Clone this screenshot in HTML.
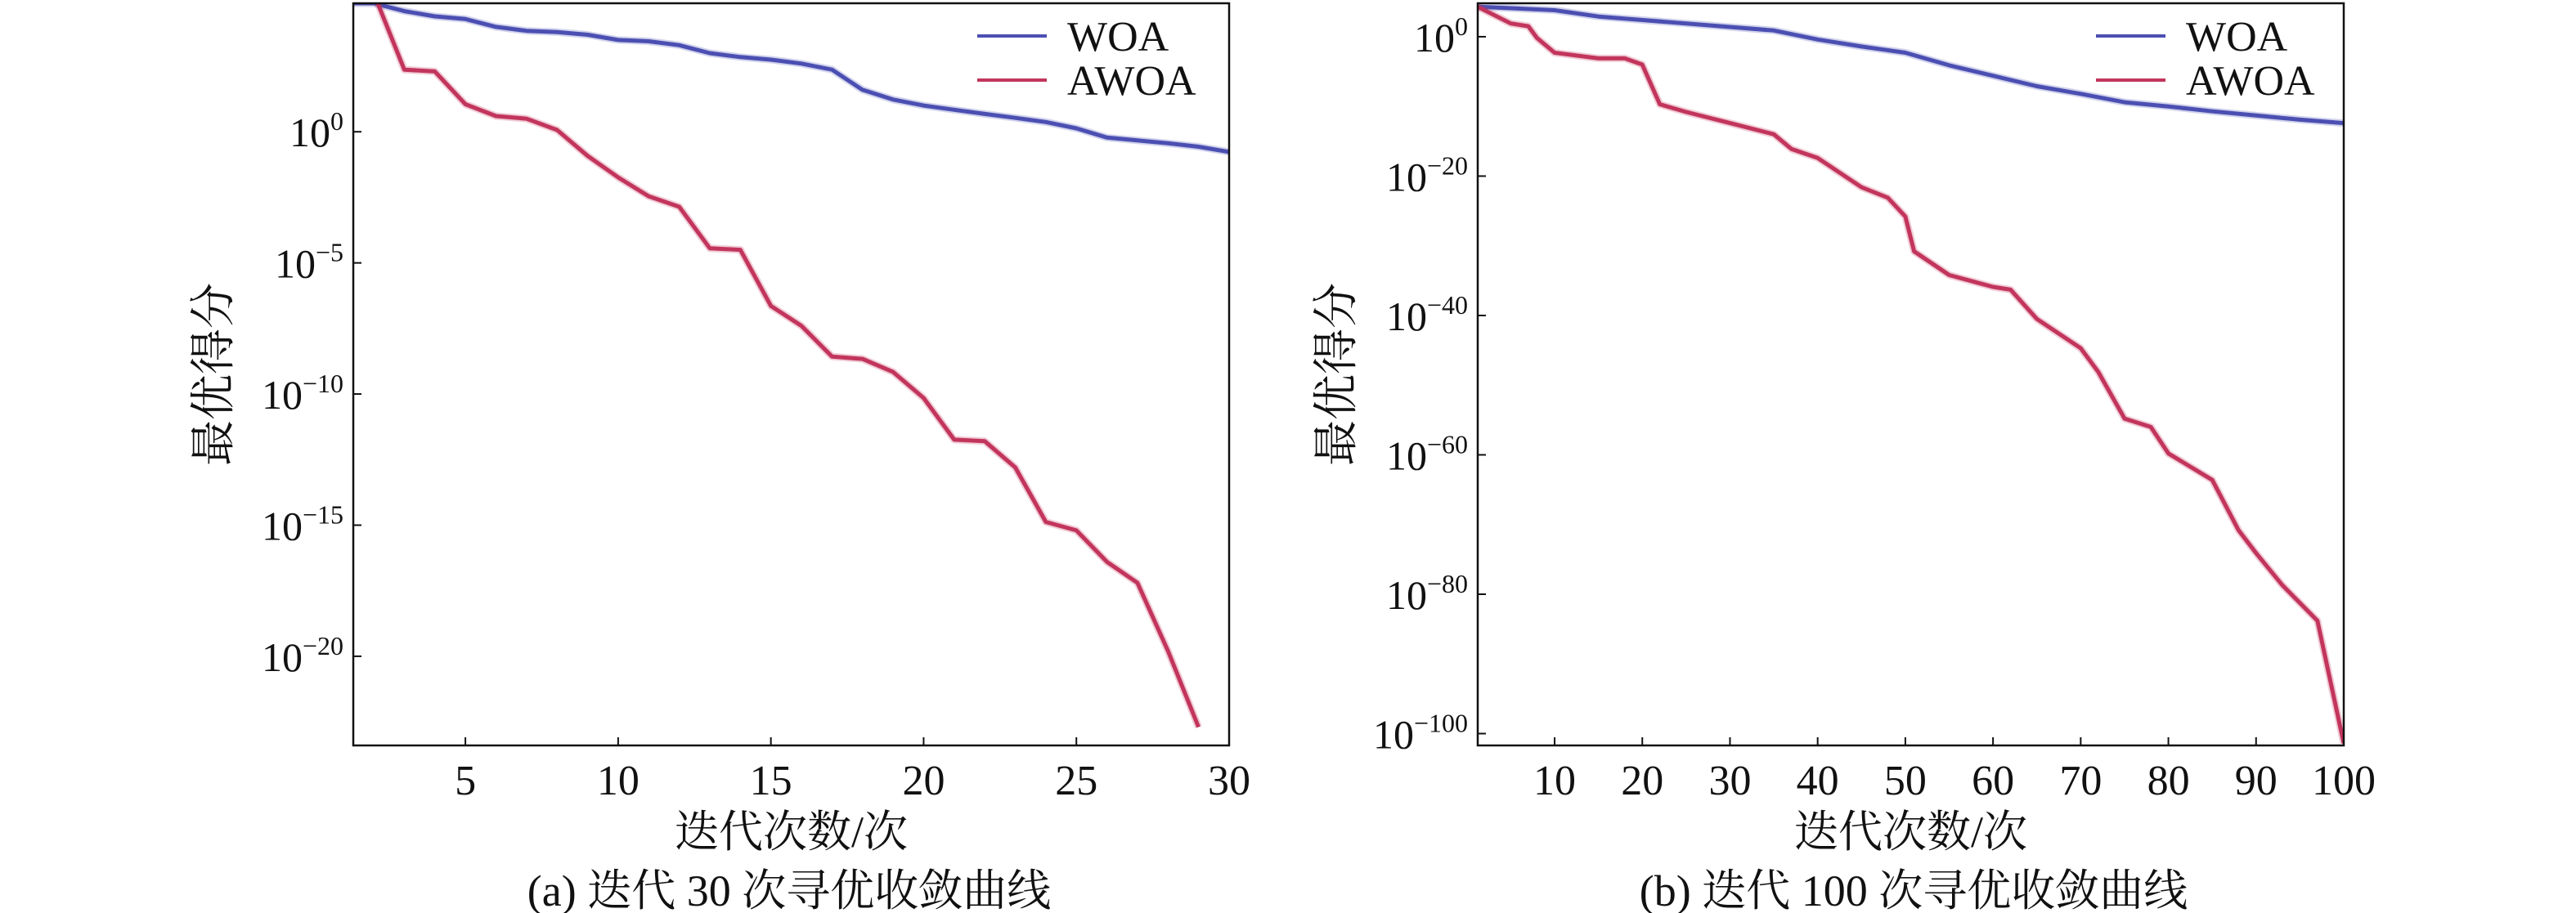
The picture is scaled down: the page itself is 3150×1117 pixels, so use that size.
<!DOCTYPE html>
<html><head><meta charset="utf-8"><style>
html,body{margin:0;padding:0;background:#fff;}
svg{display:block;}
text{font-family:"Liberation Serif","Noto Serif CJK SC",serif;fill:#111;}
</style></head><body>
<svg id="chart" width="3150" height="1117" viewBox="0 0 3150 1117" xmlns="http://www.w3.org/2000/svg"></svg>
<script>
// Panel (a): log10 of best score per iteration
const xA = [1.33,2,3,4,5,6,7,8,9,10,11,12,13,14,15,16,17,18,19,20,21,22,23,24,25,26,27,28,29,30];
const woaA = [4.9,4.9,4.6,4.4,4.3,4.0,3.85,3.8,3.7,3.5,3.45,3.3,3.0,2.85,2.75,2.6,2.37,1.6,1.23,1.0,0.84,0.68,0.53,0.37,0.13,-0.22,-0.33,-0.44,-0.57,-0.77];
const xA2 = [2.13,3,4,5,6,7,8,9,10,11,12,13,14,15,16,17,18,19,20,21,22,23,24,25,26,27,28,29];
const awoaA = [4.9,2.37,2.3,1.05,0.6,0.5,0.07,-0.92,-1.74,-2.46,-2.86,-4.44,-4.5,-6.64,-7.4,-8.57,-8.66,-9.16,-10.15,-11.74,-11.8,-12.8,-14.88,-15.2,-16.4,-17.2,-19.8,-22.7];
const ticksXA = [5,10,15,20,25,30];
const ticksYA = [0,-5,-10,-15,-20];
// Panel (b)
const xB = [1.23,5,10,15,20,25,30,35,40,45,50,55,60,65,70,75,80,85,90,95,100];
const woaB = [4.3,4.1,3.8,2.9,2.4,1.9,1.4,0.9,-0.4,-1.4,-2.3,-4.1,-5.6,-7.1,-8.2,-9.4,-10,-10.7,-11.3,-11.9,-12.4];
const xB2 = [1.23,5,7,8,10,15,18,20,22,25,30,35,37,40,45,48,50,51,55,60,62,65,70,72,75,78,80,85,88,90,93,97,98,100];
const awoaB = [4.3,1.9,1.5,-0.2,-2.3,-3.1,-3.1,-4,-9.7,-10.8,-12.4,-14,-16.1,-17.4,-21.6,-23.1,-25.8,-30.8,-34.2,-35.9,-36.3,-40.5,-44.7,-48.1,-54.8,-56,-59.8,-63.6,-70.8,-74.1,-78.7,-83.8,-89.7,-101.4];
const ticksXB = [10,20,30,40,50,60,70,80,90,100];
const ticksYB = [0,-20,-40,-60,-80,-100];

const NS="http://www.w3.org/2000/svg";
const svg=document.getElementById('chart');
function mk(tag,attrs,parent){const e=document.createElementNS(NS,tag);for(const k in attrs)e.setAttribute(k,attrs[k]);(parent||svg).appendChild(e);return e;}

function panel(p){
  const g=mk('g',{});
  
  
  const sx=v=>p.L+(v-p.x0)/(p.x1-p.x0)*(p.R-p.L);
  const sy=v=>p.T+(p.y1-v)/(p.y1-p.y0)*(p.B-p.T);
  const clipId=p.name+'-clip';
  const cp=mk('clipPath',{id:clipId},g);mk('rect',{x:p.L,y:p.T,width:p.R-p.L,height:p.B-p.T},cp);
  function series(xs,ys,color,nm){
    const d=xs.map((x,i)=>(i?'L':'M')+sx(x).toFixed(1)+','+sy(ys[i]).toFixed(1)).join(' ');
    mk('path',{d:d,fill:'none',stroke:color,'stroke-width':9,'stroke-opacity':0.25,'stroke-linejoin':'round','clip-path':'url(#'+clipId+')'},g);
    const l=mk('path',{d:d,fill:'none',stroke:color,'stroke-width':5,'stroke-linejoin':'round','clip-path':'url(#'+clipId+')'},g);
    
    
  }
  series(p.xw,p.yw,'#4b4fb2',p.name+'-woa-line');
  series(p.xa,p.ya,'#c2355c',p.name+'-awoa-line');
  const frame=mk('rect',{x:p.L,y:p.T,width:p.R-p.L,height:p.B-p.T,fill:'none',stroke:'#111','stroke-width':2.5},g);
  
  
  p.tx.forEach(t=>{
    const x=sx(t);
    mk('line',{x1:x,x2:x,y1:p.B,y2:p.B-10,stroke:'#111','stroke-width':2},g);
    const tl=mk('text',{x:x,y:p.B+60,'font-size':52,'text-anchor':'middle'},g);tl.textContent=t;
    
    
  });
  p.ty.forEach(t=>{
    const y=sy(t);
    mk('line',{x1:p.L,x2:p.L+10,y1:y,y2:y,stroke:'#111','stroke-width':2},g);
    const tl=mk('text',{x:p.L-12,y:y+18,'font-size':50,'text-anchor':'end'},g);
    tl.innerHTML='10<tspan dy="-20" font-size="32">'+(t===0?'0':'−'+Math.abs(t))+'</tspan>';
    
    
  });
  // legend
  [['WOA','#4b4fb2',44],['AWOA','#c2355c',98]].forEach(e=>{
    const lg=mk('g',{},g);
    
    
    mk('line',{x1:p.legX,x2:p.legX+85,y1:e[2],y2:e[2],stroke:e[1],'stroke-width':4},lg);
    const t=mk('text',{x:p.legX+110,y:e[2]+18,'font-size':52},lg);t.textContent=e[0];
  });
  const yl=mk('text',{x:p.ylx,y:458,'font-size':56,'text-anchor':'middle',transform:'rotate(-90 '+p.ylx+' 458)'},g);
  yl.textContent='最优得分';
  
  
  const cx=(p.L+p.R)/2;
  const xl=mk('text',{x:cx,y:1036,'font-size':54,'text-anchor':'middle'},g);
  xl.textContent='迭代次数/次';
  
  
  const cap=mk('text',{x:p.capX,y:1108,'font-size':54,'text-anchor':'middle'},g);
  cap.textContent=p.cap;
  
  
}
panel({name:'panel-a',L:432,R:1503,T:4,B:912,x0:1.33,x1:30,y0:-23.4,y1:4.9,
  xw:xA,yw:woaA,xa:xA2,ya:awoaA,tx:ticksXA,ty:ticksYA,legX:1195,ylx:280,capX:965,cap:'(a) 迭代 30 次寻优收敛曲线'});
panel({name:'panel-b',L:1807,R:2866,T:4,B:912,x0:1.23,x1:100,y0:-101.7,y1:4.8,
  xw:xB,yw:woaB,xa:xB2,ya:awoaB,tx:ticksXB,ty:ticksYB,legX:2563,ylx:1653,capX:2340,cap:'(b) 迭代 100 次寻优收敛曲线'});
</script>
</body></html>
